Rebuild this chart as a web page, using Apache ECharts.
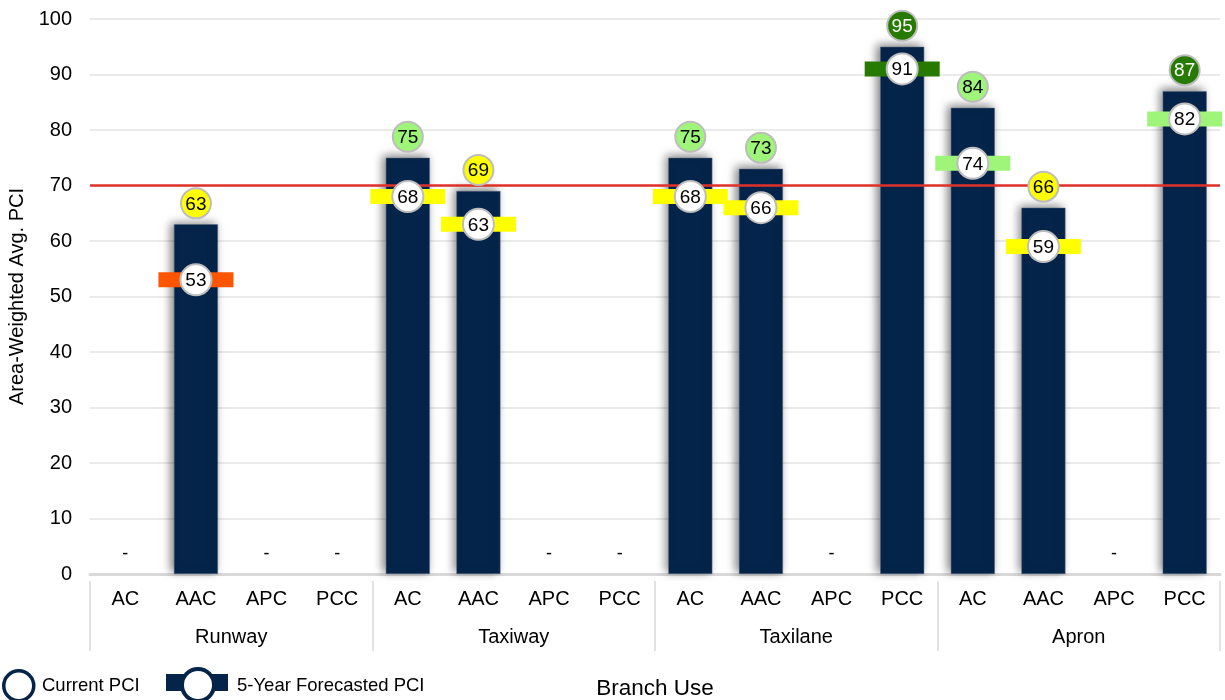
<!DOCTYPE html>
<html>
<head>
<meta charset="utf-8">
<script src="https://cdn.jsdelivr.net/npm/echarts@6/dist/echarts.min.js"></script>
<style>
  html, body { margin: 0; padding: 0; background: #fff; }
  #chart { width: 1225px; height: 700px; }
</style>
</head>
<body>
<div id="chart"></div>
<script>
// Pavement types within each branch use
const pavementTypes = ['AC', 'AAC', 'APC', 'PCC'];
const branchUses = ['Runway', 'Taxiway', 'Taxilane', 'Apron'];

// Area-weighted average PCI, one value per branch/pavement pair (null = no pavement)
const currentPCI = [null, 63, null, null, 75, 69, null, null, 75, 73, null, 95, 84, 66, null, 87];
const forecastPCI = [null, 53, null, null, 68, 63, null, null, 68, 66, null, 91, 74, 59, null, 82];

const yTicks = { min: 0, max: 100, interval: 10 };
const thresholdPCI = 70;

const FONT = 'Arial, "Liberation Sans", sans-serif';
const NAVY = '#05244A';

// condition colour bands
function conditionColor(v) {
  if (v >= 86) return '#267A00';
  if (v >= 71) return '#9EF57A';
  if (v >= 56) return '#FFFF00';
  if (v >= 41) return '#FF5500';
  return '#C00000';
}
function textColor(v) { return v >= 86 ? '#FFFFFF' : '#000000'; }

const subLabels = [];
branchUses.forEach(() => pavementTypes.forEach(p => subLabels.push(p)));

const chart = echarts.init(document.getElementById('chart'));

chart.setOption({
  animation: false,
  textStyle: { fontFamily: FONT },
  grid: { left: 90, right: 5, top: 19, bottom: 126, containLabel: false, outerBoundsMode: 'none' },
  xAxis: [
    {
      type: 'category',
      data: subLabels,
      axisLine: { show: true, lineStyle: { color: '#D9D9D9', width: 3 } },
      axisTick: { show: false },
      axisLabel: { color: '#000', fontSize: 20, margin: 15, interval: 0 },
      splitLine: { show: false }
    },
    {
      type: 'category',
      data: branchUses,
      position: 'bottom',
      offset: 7,
      axisLine: { show: false },
      axisTick: { show: true, length: 70, lineStyle: { color: '#D9D9D9', width: 1.5 } },
      axisLabel: { color: '#000', fontSize: 20, margin: 46, interval: 0 },
      name: 'Branch Use',
      nameLocation: 'middle',
      nameGap: 96,
      nameTextStyle: { color: '#000', fontSize: 22.5 }
    }
  ],
  yAxis: {
    type: 'value',
    min: yTicks.min, max: yTicks.max, interval: yTicks.interval,
    axisLine: { show: false },
    axisTick: { show: false },
    axisLabel: { color: '#000', fontSize: 20, margin: 18 },
    splitLine: { lineStyle: { color: '#E3E3E3', width: 1.5 } },
    name: 'Area-Weighted Avg. PCI',
    nameLocation: 'middle',
    nameGap: 63,
    nameTextStyle: { color: '#000', fontSize: 20 }
  },
  series: [
    {
      name: 'Current PCI bar',
      type: 'bar',
      data: currentPCI,
      barWidth: 44,
      itemStyle: {
        color: NAVY,
        borderColor: '#5A6B80', borderWidth: 0.5,
        shadowBlur: 9, shadowColor: 'rgba(0,0,0,0.5)',
        shadowOffsetX: -3, shadowOffsetY: -2
      },
      markLine: {
        silent: true,
        symbol: ['none', 'none'],
        label: { show: false },
        lineStyle: { color: '#E0302A', width: 2.5, type: 'solid' },
        data: [{ yAxis: thresholdPCI }]
      },
      z: 2
    },
    {
      // "-" placeholders where no pavement exists
      name: 'No data',
      type: 'custom',
      data: currentPCI.map((v, i) => [i, v == null ? 0 : null]),
      renderItem: function (params, api) {
        if (api.value(1) == null || isNaN(api.value(1))) return;
        const p = api.coord([api.value(0), 0]);
        return {
          type: 'text',
          style: { text: '-', x: p[0], y: p[1] - 20, fill: '#000', font: '18px ' + FONT, align: 'center', verticalAlign: 'middle' }
        };
      },
      z: 3
    },
    {
      // forecast marker: coloured band with a white circle
      name: '5-Year Forecasted PCI',
      type: 'custom',
      data: forecastPCI.map((v, i) => [i, v]),
      renderItem: function (params, api) {
        const v = api.value(1);
        if (v == null || isNaN(v)) return;
        const p = api.coord([api.value(0), v]);
        return {
          type: 'group',
          children: [
            { type: 'rect', shape: { x: p[0] - 37.5, y: p[1] - 7.5, width: 75, height: 15 }, style: { fill: conditionColor(v) } },
            { type: 'circle', shape: { cx: p[0], cy: p[1], r: 15.5 }, style: { fill: '#FFFFFF', stroke: '#BDBDBD', lineWidth: 2 } },
            { type: 'text', style: { text: String(v), x: p[0], y: p[1] + 1, fill: '#000', font: '19px ' + FONT, align: 'center', verticalAlign: 'middle' } }
          ]
        };
      },
      z: 5
    },
    {
      // current PCI badge above each bar
      name: 'Current PCI',
      type: 'custom',
      data: currentPCI.map((v, i) => [i, v]),
      renderItem: function (params, api) {
        const v = api.value(1);
        if (v == null || isNaN(v)) return;
        const p = api.coord([api.value(0), v]);
        const cy = p[1] - 21;
        return {
          type: 'group',
          children: [
            { type: 'circle', shape: { cx: p[0], cy: cy, r: 15 }, style: { fill: conditionColor(v), stroke: '#BDBDBD', lineWidth: 2 } },
            { type: 'text', style: { text: String(v), x: p[0], y: cy + 1, fill: textColor(v), font: '19px ' + FONT, align: 'center', verticalAlign: 'middle' } }
          ]
        };
      },
      z: 5
    }
  ],
  graphic: [
    { type: 'circle', left: 2, top: 669, shape: { r: 15 }, style: { fill: '#fff', stroke: NAVY, lineWidth: 3.5 } },
    { type: 'text', left: 42, top: 676, style: { text: 'Current PCI', fill: '#000', font: '18.5px ' + FONT } },
    { type: 'rect', left: 166, top: 674, shape: { width: 62, height: 17 }, style: { fill: NAVY } },
    { type: 'circle', left: 180, top: 667, shape: { r: 16 }, style: { fill: '#fff', stroke: NAVY, lineWidth: 4 } },
    { type: 'text', left: 237, top: 676, style: { text: '5-Year Forecasted PCI', fill: '#000', font: '18.5px ' + FONT } }
  ]
});
</script>
</body>
</html>
